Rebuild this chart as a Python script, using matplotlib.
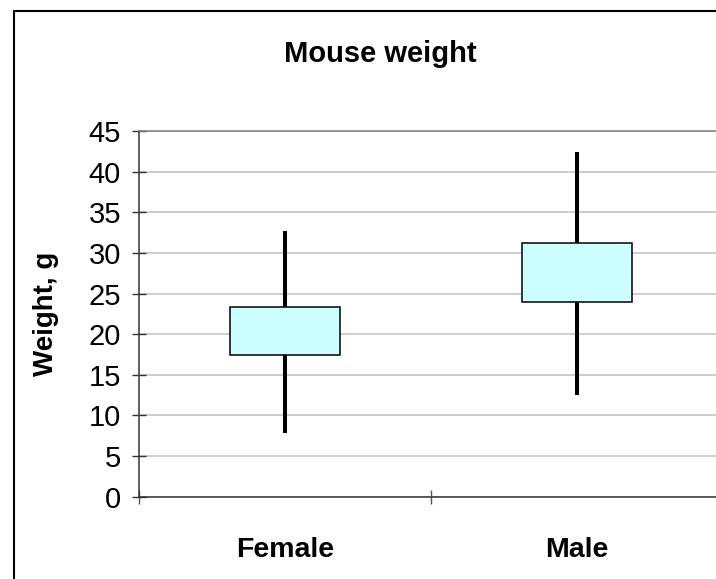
import matplotlib
matplotlib.use("Agg")
import matplotlib.pyplot as plt
from matplotlib.patches import Rectangle

plt.rcParams['font.family'] = ['Liberation Sans', 'DejaVu Sans']

# Box-and-whisker summary of mouse weight by sex
groups = ["Female", "Male"]
whisker_low = [7.8, 12.5]
box_low = [17.4, 24.0]
box_high = [23.3, 31.2]
whisker_high = [32.7, 42.4]
y_ticks = [0, 5, 10, 15, 20, 25, 30, 35, 40, 45]

W, H = 716, 579
fig = plt.figure(figsize=(W / 100, H / 100), dpi=100)

# axes placed in pixel terms; the plot area runs slightly past the right edge
left, right, top, bottom = 139, 723, 131, 496.7
ax = fig.add_axes([left / W, 1 - bottom / H, (right - left) / W, (bottom - top) / H])

centers = [i + 0.5 for i in range(len(groups))]

ax.vlines(centers, whisker_low, whisker_high, color="black", linewidth=2.9, zorder=2)
ax.bar(centers, [h - l for l, h in zip(box_low, box_high)], bottom=box_low,
       width=0.377, color="#CCFFFF", edgecolor="black", linewidth=1.1, zorder=3)

ax.set_xlim(0, len(groups))
ax.set_ylim(0, 45)
ax.set_yticks(y_ticks)
ax.set_yticklabels([str(v) for v in y_ticks], fontsize=21)
ax.yaxis.grid(True, color="#C0C0C0", linewidth=1.1, zorder=0)
ax.set_axisbelow(True)

# category boundaries as major ticks, names on minor ticks at the centers
ax.set_xticks(range(len(groups) + 1))
ax.set_xticklabels([])
ax.set_xticks(centers, minor=True)
ax.set_xticklabels(groups, minor=True, fontsize=20.5, fontweight="bold")
ax.tick_params(axis="x", which="major", direction="inout", length=10, width=1, color="#555555")
ax.tick_params(axis="x", which="minor", length=0, pad=29)
ax.tick_params(axis="y", direction="inout", length=10, width=1, color="#333333", pad=8)

ax.spines["left"].set_color("#333333")
ax.spines["bottom"].set_color("#333333")
ax.spines["top"].set_color("#808080")
ax.spines["right"].set_visible(False)
for s in ("left", "bottom", "top"):
    ax.spines[s].set_linewidth(1.1)

ax.set_ylabel("Weight, g", fontsize=20, fontweight="bold", va="center")
ax.yaxis.set_label_coords((46 - left) / (right - left), 0.5)

fig.text(380 / W, 1 - 54 / H, "Mouse weight", ha="center", va="center",
         fontsize=21, fontweight="bold")

# chart-area border
fig.patches.append(Rectangle((14 / W, -0.1), 1.2, 1.1 - 11 / H, transform=fig.transFigure,
                             fill=False, edgecolor="black", linewidth=1.5))

fig.savefig("out.png", dpi=100)
